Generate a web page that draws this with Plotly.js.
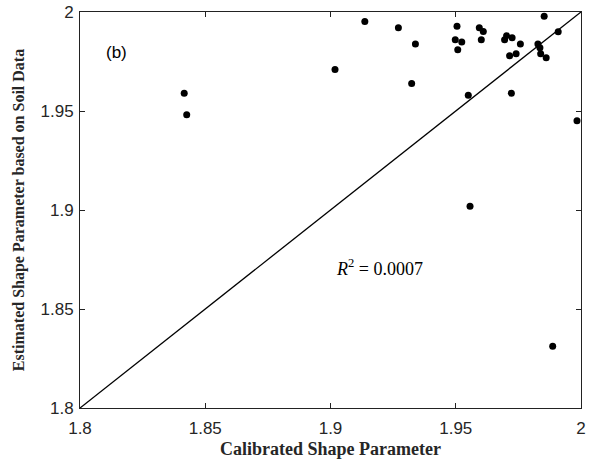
<!DOCTYPE html>
<html>
<head>
<meta charset="utf-8">
<script src="https://cdn.plot.ly/plotly-3.0.1.min.js"></script>
<style>html,body{margin:0;padding:0;background:#fff}</style>
</head>
<body>
<div id="chart" style="width:592px;height:464px"></div>
<script>
const calibrated = [1.9271,1.9505,1.9853,1.9594,1.9610,1.9909,1.9339,1.9498,1.9524,1.9602,
  1.9703,1.9695,1.9725,1.9758,1.9508,1.9828,1.9836,1.9715,1.9741,1.9839,
  1.9861,1.9324,1.9550,1.9722,1.9984,1.9557,1.9887,1.9018,1.8416,1.8426,1.9137];
const estimated = [1.9920,1.9928,1.9979,1.9920,1.9902,1.9900,1.9839,1.9860,1.9849,1.9860,
  1.9880,1.9860,1.9870,1.9839,1.9809,1.9839,1.9819,1.9779,1.9789,1.9789,
  1.9769,1.9639,1.9580,1.9590,1.9451,1.9019,1.8312,1.9710,1.9590,1.9481,1.9952];
const identityLine = [1.8, 2.0];
const tickVals = [1.8, 1.85, 1.9, 1.95, 2];
const tickText = ['1.8', '1.85', '1.9', '1.95', '2'];
const r2Label = '<i>R</i><sup>2</sup> = 0.0007';
const panelLabel = '(b)';

const traces = [
  {x: identityLine, y: identityLine, mode: 'lines', type: 'scatter',
   line: {color: '#000', width: 1.3}, hoverinfo: 'skip', showlegend: false},
  {x: calibrated, y: estimated, mode: 'markers', type: 'scatter',
   marker: {color: '#000', size: 7}, showlegend: false}
];

const axisCommon = {
  range: [1.8, 2], tickvals: tickVals, ticktext: tickText,
  ticks: 'inside', ticklen: 5, tickwidth: 1, tickcolor: '#222',
  showline: true, linecolor: '#222', linewidth: 1, mirror: 'ticks',
  showgrid: false, zeroline: false,
  tickfont: {family: 'Liberation Sans, Arial', size: 17, color: '#262626'}
};

const layout = {
  width: 592, height: 464,
  margin: {l: 80, r: 11, t: 12, b: 56},
  paper_bgcolor: '#fff', plot_bgcolor: '#fff',
  xaxis: Object.assign({}, axisCommon, {
    ticklabelstandoff: 5,
    title: {text: '<b>Calibrated Shape Parameter</b>', standoff: 4,
      font: {family: 'Liberation Serif, Times New Roman', size: 18, color: '#262626'}}
  }),
  yaxis: Object.assign({}, axisCommon, {
    ticklabelstandoff: 2,
    title: {text: '<b>Estimated Shape Parameter based on Soil Data</b>', standoff: 11,
      font: {family: 'Liberation Serif, Times New Roman', size: 16, color: '#262626'}}
  }),
  annotations: [
    {x: 1.9194, y: 1.871, xref: 'x', yref: 'y', text: r2Label, showarrow: false,
     font: {family: 'Liberation Serif, Times New Roman', size: 18, color: '#000'}},
    {x: 1.8144, y: 1.9795, xref: 'x', yref: 'y', text: panelLabel, showarrow: false,
     font: {family: 'Liberation Sans, Arial', size: 17, color: '#000'}}
  ]
};

Plotly.newPlot('chart', traces, layout, {staticPlot: true, displayModeBar: false});
</script>
</body>
</html>
